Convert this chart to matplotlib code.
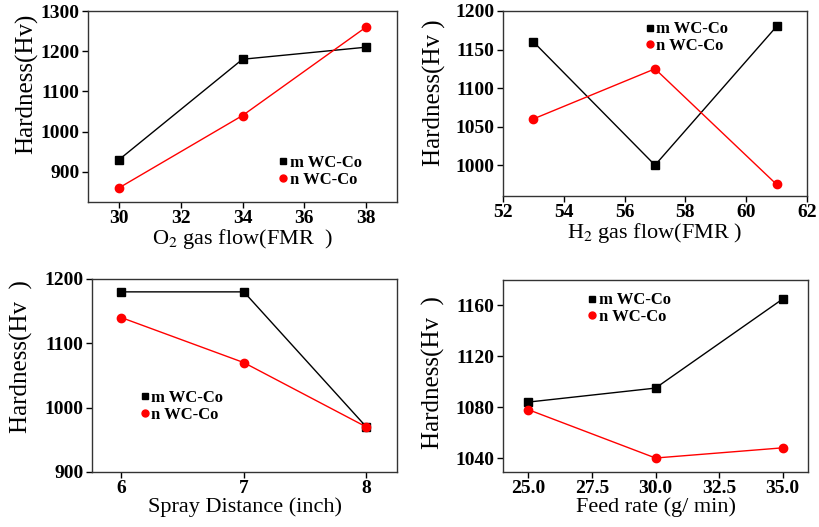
import matplotlib
matplotlib.use("Agg")
import matplotlib.pyplot as plt
from matplotlib.lines import Line2D

plt.rcParams['font.family'] = ['Liberation Serif', 'DejaVu Serif']
plt.rcParams['mathtext.fontset'] = 'stix'

# data
o2_flow = [30, 34, 38]
o2_m = [930, 1180, 1210]
o2_n = [860, 1040, 1260]

h2_flow = [53, 57, 61]
h2_m = [1160, 1000, 1180]
h2_n = [1060, 1125, 975]

spray_dist = [6, 7, 8]
spray_m = [1180, 1180, 970]
spray_n = [1140, 1070, 970]

feed_rate = [25.0, 30.0, 35.0]
feed_m = [1084, 1095, 1165]
feed_n = [1078, 1040, 1048]

series_labels = ['m WC-Co', 'n WC-Co']

W, H = 819, 527
fig = plt.figure(figsize=(W / 100, H / 100), dpi=100)


def px_axes(left, top, right, bottom):
    return fig.add_axes([left / W, 1 - bottom / H, (right - left) / W, (bottom - top) / H])


def draw(ax, x, m, n, xlim, ylim, xticks, yticks, xlabel, ylabel, ylab_pos, leg_anchor,
         xfmt=None):
    ax.plot(x, m, color='black', lw=1.0, marker='s', ms=6)
    ax.plot(x, n, color='red', lw=1.0, marker='o', ms=6)
    ax.set_xlim(*xlim)
    ax.set_ylim(*ylim)
    ax.set_xticks(xticks)
    if xfmt:
        ax.set_xticklabels([xfmt.format(v) for v in xticks])
    ax.set_yticks(yticks)
    ax.tick_params(direction='out', length=4, width=1, labelsize=14, pad=2)
    for lab in ax.get_xticklabels() + ax.get_yticklabels():
        lab.set_fontweight('bold')
    for sp in ax.spines.values():
        sp.set_color('#333333')
        sp.set_linewidth(1.0)
    ax.set_xlabel(xlabel, fontsize=16, labelpad=0)
    ax.set_ylabel(ylabel, fontsize=18, va='center')
    ax.yaxis.set_label_coords(*ylab_pos)
    handles = [
        Line2D([], [], color='black', marker='s', ls='none', ms=4.5),
        Line2D([], [], color='red', marker='o', ls='none', ms=5),
    ]
    ax.legend(handles, series_labels, loc='upper left', bbox_to_anchor=leg_anchor,
              frameon=False, handlelength=0.4, handletextpad=0.2, labelspacing=0.05,
              borderaxespad=0, prop={'weight': 'bold', 'size': 12})


ax1 = px_axes(88, 11, 397, 202)
draw(ax1, o2_flow, o2_m, o2_n, (29, 39), (825, 1300), [30, 32, 34, 36, 38],
     [900, 1000, 1100, 1200, 1300], 'O$_2$ gas flow(FMR  )', 'Hardness(Hv)',
     (-0.2, 0.62), (0.6, 0.28))

ax2 = px_axes(503, 11, 807, 196)
draw(ax2, h2_flow, h2_m, h2_n, (52, 62), (960, 1200), [52, 54, 56, 58, 60, 62],
     [1000, 1050, 1100, 1150, 1200], 'H$_2$ gas flow(FMR )', 'Hardness(Hv )',
     (-0.225, 0.56), (0.45, 0.98))

ax3 = px_axes(92, 279, 397, 472)
draw(ax3, spray_dist, spray_m, spray_n, (5.76, 8.25), (900, 1200), [6, 7, 8],
     [900, 1000, 1100, 1200], 'Spray Distance (inch)', 'Hardness(Hv  )',
     (-0.23, 0.6), (0.14, 0.46))

ax4 = px_axes(503, 280, 808, 472)
draw(ax4, feed_rate, feed_m, feed_n, (24, 36), (1029, 1180), [25, 27.5, 30, 32.5, 35],
     [1040, 1080, 1120, 1160], 'Feed rate (g/ min)', 'Hardness(Hv  )',
     (-0.228, 0.52), (0.26, 0.97), xfmt='{:.1f}')

fig.savefig('out.png', dpi=100)
